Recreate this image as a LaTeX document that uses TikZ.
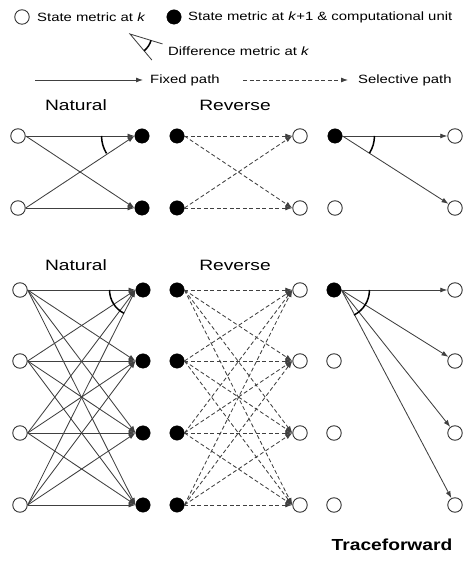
\documentclass[tikz,border=0pt]{standalone}
\usepackage{fontspec}
\setmainfont{Liberation Sans}
\usetikzlibrary{arrows.meta,calc}
\newcommand{\wtext}[2]{\scalebox{#1}[1]{#2}}
\begin{document}
\begin{tikzpicture}[x=1pt,y=1pt,
  opennode/.style={circle,draw=black!80,line width=0.9pt,fill=white,minimum size=14.5pt,inner sep=0pt},
  fillnode/.style={circle,draw=black,fill=black,minimum size=14.5pt,inner sep=0pt},
  fixedpath/.style={draw=black!75,line width=0.85pt,-{Latex[length=7pt,width=5pt]}},
  selpath/.style={draw=black!75,line width=0.85pt,dash pattern=on 4pt off 2.5pt,-{Latex[length=7pt,width=5pt]}},
  plainline/.style={draw=black!75,line width=0.85pt},
  anglearc/.style={draw=black,line width=1.5pt},
  legtext/.style={anchor=west,inner sep=0pt,font=\fontsize{12}{14}\selectfont},
  titletext/.style={inner sep=0pt,font=\fontsize{15}{18}\selectfont},
  tracetext/.style={inner sep=0pt,font=\fontsize{16}{19}\selectfont\bfseries}]
\useasboundingbox (0,0) rectangle (464,562);

% ---------- legend ----------
\node[opennode] (lgo) at (22,545) {};
\node[legtext] (lgot) at (37,545) {\wtext{1.24}{State metric at \textit{k}}};
\node[fillnode] (lgf) at (174,545) {};
\node[legtext] (lgft) at (188,545) {\wtext{1.24}{State metric at \textit{k}+1 \& computational unit}};
\coordinate (lgv) at (130,528);
\coordinate (lgr1) at ($(lgv)+(-17:34)$);
\coordinate (lgr2) at ($(lgv)+(-50:34)$);
\draw[plainline] (lgr1) -- (lgv) -- (lgr2);
\draw[anglearc] ([shift={(-17:22)}]lgv) arc[start angle=-17,end angle=-50,radius=22pt];
\node[legtext] (lgdt) at (168,511) {\wtext{1.24}{Difference metric at \textit{k}}};
\coordinate (lgs1) at (35,482);
\coordinate (lgs2) at (143,482);
\draw[fixedpath] (lgs1) -- (lgs2);
\node[legtext] (lgst) at (150,482) {\wtext{1.24}{Fixed path}};
\coordinate (lgd1) at (243,482);
\coordinate (lgd2) at (348,482);
\draw[selpath] (lgd1) -- (lgd2);
\node[legtext] (lgdt2) at (358,482) {\wtext{1.24}{Selective path}};

% ---------- top section ----------
\node[titletext] (tnat) at (76,457) {\wtext{1.28}{Natural}};
\node[titletext] (trev) at (235,457) {\wtext{1.28}{Reverse}};

\node[opennode] (na1) at (18,426) {};
\node[opennode] (na2) at (18,354) {};
\node[fillnode] (nb1) at (142,426) {};
\node[fillnode] (nb2) at (142,354) {};
\node[fillnode] (ra1) at (177,426) {};
\node[fillnode] (ra2) at (177,354) {};
\node[opennode] (rb1) at (300,426) {};
\node[opennode] (rb2) at (300,354) {};
\node[fillnode] (ta1) at (335,426) {};
\node[opennode] (ta2) at (335,354) {};
\node[opennode] (tb1) at (455,426) {};
\node[opennode] (tb2) at (455,354) {};

\foreach \i in {1,2} \foreach \j in {1,2} {
  \draw[fixedpath] (na\i.east) -- (nb\j.west);
  \draw[selpath] (ra\i.east) -- (rb\j.west);
}
\draw[fixedpath] (ta1.east) -- (tb1.west);
\draw[fixedpath] (ta1.east) -- (tb2);
\draw[anglearc] ([shift={(180:33)}]nb1.west) arc[start angle=180,end angle=211.8,radius=33pt];
\draw[anglearc] ([shift={(0:32)}]ta1.east) arc[start angle=0,end angle=-32.5,radius=32pt];

% ---------- bottom section ----------
\node[titletext] (bnat) at (76,297) {\wtext{1.28}{Natural}};
\node[titletext] (brev) at (235,297) {\wtext{1.28}{Reverse}};

\foreach \i/\y in {1/272,2/201,3/129,4/57} {
  \node[opennode] (NA\i) at (20,\y) {};
  \node[fillnode] (NB\i) at (143,\y) {};
  \node[fillnode] (RA\i) at (177,\y) {};
  \node[opennode] (RB\i) at (300,\y) {};
  \node[opennode] (TB\i) at (455,\y) {};
}
\node[fillnode] (TA1) at (334,272) {};
\node[opennode] (TA2) at (334,201) {};
\node[opennode] (TA3) at (334,129) {};
\node[opennode] (TA4) at (334,57) {};

\foreach \i in {1,...,4} \foreach \j in {1,...,4} {
  \draw[fixedpath] (NA\i.east) -- (NB\j.west);
  \draw[selpath] (RA\i.east) -- (RB\j.west);
}
\draw[fixedpath] (TA1.east) -- (TB1.west);
\foreach \j in {2,3,4} \draw[fixedpath] (TA1.east) -- (TB\j);
\draw[anglearc] ([shift={(180:26)}]NB1.west) arc[start angle=180,end angle=243.8,radius=26pt];
\draw[anglearc] ([shift={(0:28)}]TA1.east) arc[start angle=0,end angle=-63.5,radius=28pt];

\node[tracetext] (tf) at (392,17) {\wtext{1.2}{Traceforward}};
\end{tikzpicture}
\end{document}
